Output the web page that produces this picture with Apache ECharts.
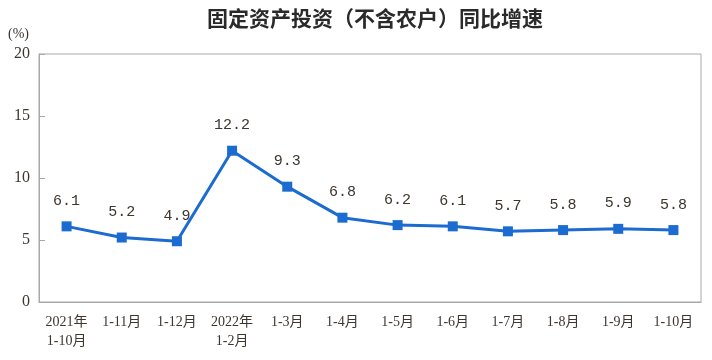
<!DOCTYPE html>
<html><head><meta charset="utf-8">
<script src="https://cdn.jsdelivr.net/npm/echarts@6/dist/echarts.min.js"></script>
<style>html,body{margin:0;padding:0;background:#fff}#c{width:712px;height:360px}</style>
</head><body><div id="c"></div>
<script>
const categories = ["2021年\n1-10月","1-11月","1-12月","2022年\n1-2月","1-3月","1-4月","1-5月","1-6月","1-7月","1-8月","1-9月","1-10月"];
const growth = [6.1,5.2,4.9,12.2,9.3,6.8,6.2,6.1,5.7,5.8,5.9,5.8];
const yTicks = [0,5,10,15,20];
const titleText = "固定资产投资（不含农户）同比增速";
const unitText = "(%)";

const chart = echarts.init(document.getElementById('c'), null, {renderer:'canvas'});
const txt = '#3d352e';
chart.setOption({
  animation:false,
  backgroundColor:'#fff',
  title:{text:titleText,left:370,top:3,textAlign:'center',
    textStyle:{fontFamily:'"Noto Sans CJK SC"',fontSize:21,fontWeight:'bold',color:'#2a2a2a'}},
  graphic:[{type:'text',left:8,top:27,style:{text:unitText,fontFamily:'"Liberation Serif"',fontSize:14,fill:txt}}],
  grid:{left:39,right:11,top:54,bottom:58,show:true,borderColor:'#a8a8a8',borderWidth:1},
  xAxis:{type:'category',data:categories,boundaryGap:true,
    axisLine:{lineStyle:{color:'#a8a8a8'}},
    axisTick:{inside:true,length:5,lineStyle:{color:'#a8a8a8'}},
    axisLabel:{interval:0,color:txt,fontFamily:'"Liberation Serif","Noto Sans CJK SC"',fontSize:14,lineHeight:19,margin:11}},
  yAxis:{type:'value',min:0,max:20,interval:5,
    axisLine:{show:true,lineStyle:{color:'#a8a8a8'}},
    axisTick:{show:true,inside:true,length:6,lineStyle:{color:'#a8a8a8'}},
    splitLine:{show:false},
    axisLabel:{color:txt,fontFamily:'"Liberation Serif"',fontSize:16,margin:9,
      formatter:v=>yTicks.includes(v)?String(v):''}},
  series:[{type:'line',data:growth,symbol:'rect',symbolSize:10,
    lineStyle:{color:'#1c6bd0',width:3},itemStyle:{color:'#1c6bd0'},
    label:{show:true,position:'top',distance:13,color:txt,fontFamily:'"Liberation Mono"',fontSize:15,
      formatter:p=>p.value.toFixed(1)}}]
});
</script></body></html>
